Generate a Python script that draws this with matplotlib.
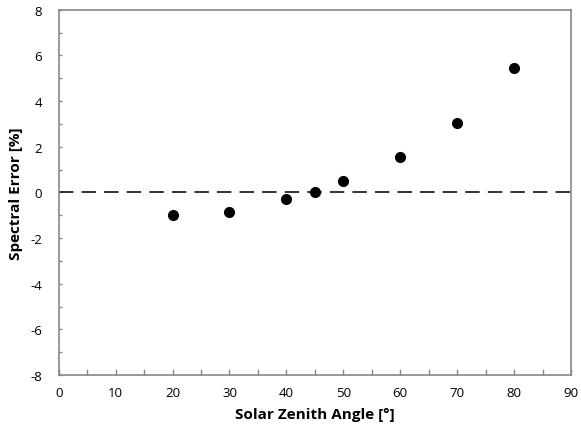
import matplotlib
matplotlib.use('Agg')
import matplotlib.pyplot as plt
from matplotlib.ticker import MultipleLocator

# solar zenith angle [deg] vs spectral error [%]
zenith = [20, 30, 40, 45, 50, 60, 70, 80]
spec_err = [-0.99, -0.88, -0.29, 0.03, 0.51, 1.53, 3.02, 5.43]

plt.rcParams['font.family'] = ['Open Sans', 'DejaVu Sans']
plt.rcParams['axes.unicode_minus'] = False

fig = plt.figure(figsize=(5.81, 4.39), dpi=100)
ax = fig.add_axes([0.101, 0.1435, 0.882, 0.832])

ax.plot(zenith, spec_err, 'o', color='black', markersize=7, zorder=3)
ax.axhline(0, color='#222222', linewidth=1.3, dashes=(8, 4.5))

ax.set_xlim(0, 90)
ax.set_ylim(-8, 8)
ax.xaxis.set_major_locator(MultipleLocator(10))
ax.xaxis.set_minor_locator(MultipleLocator(5))
ax.yaxis.set_major_locator(MultipleLocator(2))
ax.yaxis.set_minor_locator(MultipleLocator(1))

for s in ax.spines.values():
    s.set_color('#888888')
    s.set_linewidth(1.2)

ax.tick_params(axis='x', which='both', direction='in', length=4, width=1, color='#888888', labelsize=9.5, pad=8)
ax.tick_params(axis='y', which='both', direction='in', length=2.5, width=1, color='#888888', labelsize=9.5, pad=12)

ax.set_xlabel('Solar Zenith Angle [°]', fontsize=11, fontweight='bold', labelpad=6)
ax.set_ylabel('Spectral Error [%]', fontsize=11, fontweight='bold', labelpad=5)

fig.savefig('out.png', dpi=100)
